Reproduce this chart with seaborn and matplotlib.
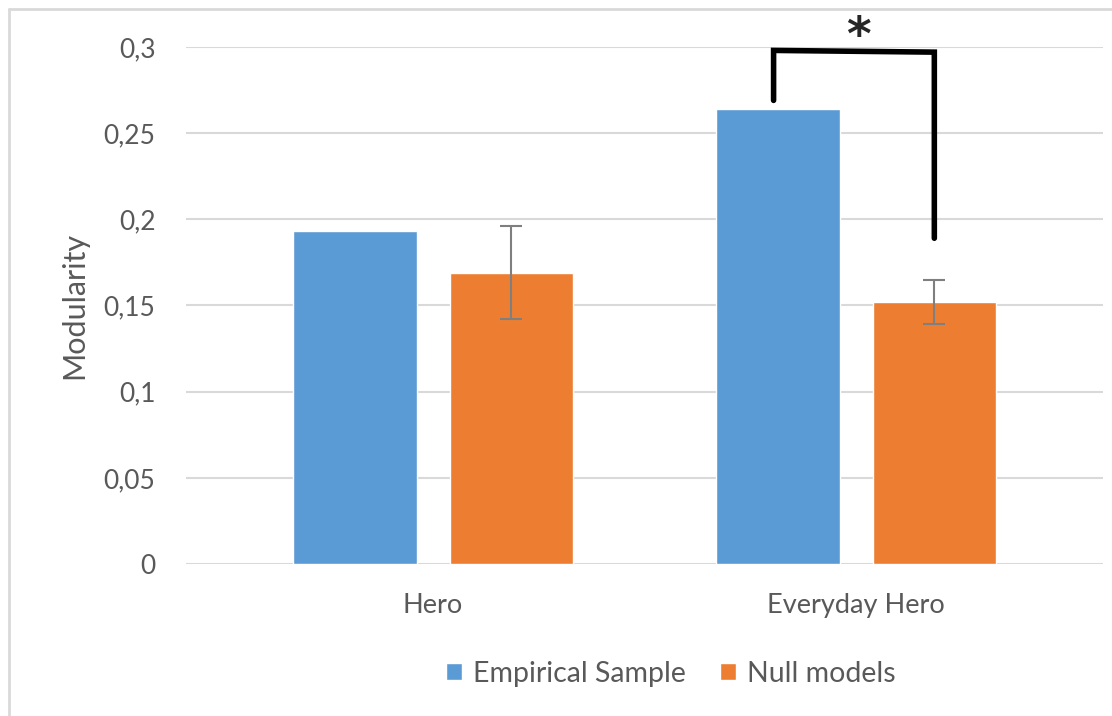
import numpy as np
import pandas as pd
import matplotlib
matplotlib.use("Agg")
import matplotlib.pyplot as plt
from matplotlib.lines import Line2D
from matplotlib.ticker import FuncFormatter
import seaborn as sns

categories = ["Hero", "Everyday Hero"]
series = ["Empirical Sample", "Null models"]
empirical = [0.193, 0.264]
null_models = [0.169, 0.152]
null_err = [0.027, 0.013]
y_ticks = [0, 0.05, 0.1, 0.15, 0.2, 0.25, 0.3]

colors = ["#5B9BD5", "#ED7D31"]
text_col = "#595959"
grid_col = "#D9D9D9"

df = pd.DataFrame({
    "category": categories * 2,
    "series": [series[0]] * 2 + [series[1]] * 2,
    "value": empirical + null_models,
})

sns.set_style("white")
plt.rcParams["font.family"] = ["Lato", "DejaVu Sans"]

fig = plt.figure(figsize=(11.12, 7.16), dpi=100)
ax = fig.add_axes([0.1673, 0.2123, 0.8247, 0.7221])

sns.barplot(data=df, x="category", y="value", hue="series", order=categories,
            hue_order=series, palette=colors, width=0.74, gap=0.211,
            errorbar=None, saturation=1, ax=ax, zorder=2)

# error bars on the null model bars
null_bars = ax.containers[1]
xs = [p.get_x() + p.get_width() / 2 for p in null_bars]
ax.errorbar(xs, null_models, yerr=null_err, fmt="none", ecolor="#7F7F7F",
            elinewidth=1.5, capsize=8, capthick=1.5, zorder=3)

ax.set_xlim(-0.584, 1.584)
ax.set_ylim(0, 0.3)
ax.set_yticks(y_ticks)
ax.yaxis.set_major_formatter(FuncFormatter(lambda v, p: f"{v:g}".replace(".", ",")))
ax.grid(axis="y", color=grid_col, linewidth=1.5, zorder=0)
ax.set_axisbelow(True)
for s in ["top", "right", "left", "bottom"]:
    ax.spines[s].set_visible(False)
ax.tick_params(axis="y", length=0, pad=22, labelsize=19, labelcolor=text_col)
ax.tick_params(axis="x", length=0, pad=21, labelsize=19.5, labelcolor=text_col)
ax.set_xlabel("")
ax.set_ylabel("Modularity", fontsize=22, color=text_col, labelpad=11)

# significance bracket
emp_bars = ax.containers[0]
x_left = emp_bars[1].get_x() + emp_bars[1].get_width() / 2 - 0.01
x_right = xs[1]
ax.plot([x_left, x_left, x_right, x_right], [empirical[1] + 0.005, 0.298, 0.297, 0.189],
        color="black", lw=4, solid_joinstyle="miter", clip_on=False, zorder=4)
ax.text((x_left + x_right) / 2 + 0.01, 0.3053, "*", ha="center", va="center",
        fontsize=34, fontweight="bold", family="DejaVu Sans", clip_on=False)

leg = ax.legend(loc="center", bbox_to_anchor=(0.529, -0.212), ncol=2, frameon=False,
                fontsize=20.5, handlelength=0.55, handleheight=0.55, columnspacing=1.2,
                handletextpad=0.4, bbox_transform=ax.transAxes)
for t in leg.get_texts():
    t.set_color(text_col)

# chart frame (left and top edges visible)
fig.add_artist(Line2D([9 / 1112, 9 / 1112], [0, 1 - 9 / 716], transform=fig.transFigure,
                      color=grid_col, lw=2))
fig.add_artist(Line2D([9 / 1112, 1], [1 - 9 / 716, 1 - 9 / 716], transform=fig.transFigure,
                      color=grid_col, lw=2))

fig.savefig("out.png", dpi=100, facecolor="white")
